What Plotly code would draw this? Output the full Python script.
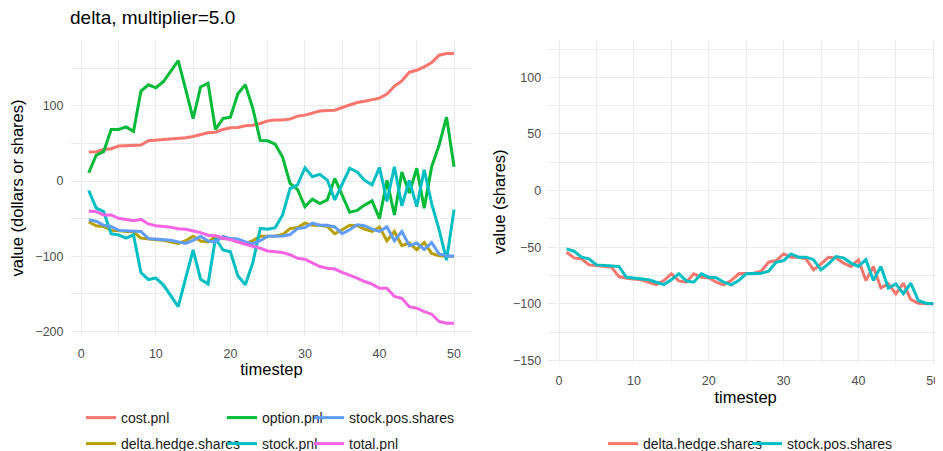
import plotly.graph_objects as go

timestep = list(range(1, 51))

cost_pnl = [38.5, 39, 42, 43, 46.5, 47, 47.3, 47.8, 53.5, 54.4,
            54.4, 55.3, 56.2, 57.5, 59.3, 62, 64.2, 65, 68.6, 70.8,
            71.2, 73.5, 74.3, 76.5, 80, 81, 81, 82.3, 86.3, 87.6,
            90.7, 93, 93.8, 94.2, 97.8, 101, 104.4, 106.2, 108.4, 110.2,
            115.5, 126, 133, 144.7, 147.3, 151.8, 157.5, 167.3, 169.5, 169.5]

option_pnl = [11, 34.5, 39, 68.6, 68.6, 72, 66, 119.5, 128, 124,
              132, 146, 160, 122, 83, 125, 130, 68.6, 83, 85,
              116, 128, 97, 54, 53.5, 49, 32, -3, -11, -34,
              -24, -30, -25, 3.5, -18.6, -41.6, -39, -32, -26.5, -50,
              1, -45, 12, -16, 17, -36, 19, 48, 85, 19]

stock_pnl = [-12.8, -36, -40.7, -70, -71.7, -76, -71.7, -121.7, -131, -129,
             -138, -152.6, -167, -129, -91.6, -130.5, -137, -76, -91.6, -94,
             -126, -138, -109, -63, -64, -62, -45, -10, -5, 17.7,
             5.7, 8.8, 1.3, -25, -5, 17, 12, 1, -5, 18,
             -27, 19, -33, 1, -34, 15, -30, -65, -105, -38]

total_pnl = [-39.8, -40.7, -45, -45, -49.6, -51, -52.7, -51, -57, -59.3,
             -60.2, -61.5, -63.3, -64, -66.4, -68.6, -72, -72.6, -76, -77.9,
             -81, -83.6, -85.8, -89.4, -93, -93.8, -95, -98, -102.7, -104,
             -108.4, -113.7, -116, -117, -121.3, -124.8, -129.2, -133.6, -137, -142.5,
             -142.5, -153.5, -155.8, -167, -169, -173.5, -177, -186.7, -189, -189]

delta_hedge_shares = [-54.4, -59.4, -60.3, -65.6, -66.2, -66.8, -67.6, -75.9, -77.4, -78,
                      -78.8, -80.9, -83, -79.4, -73.5, -79.7, -80.9, -73.5, -76.5, -77,
                      -80.9, -83.2, -79.4, -73.5, -73.5, -73, -71.2, -63.2, -61.8, -55.9,
                      -58.8, -58.8, -60.3, -70, -64.7, -58.8, -59.4, -64, -67, -61.2,
                      -79.4, -67, -85.9, -82.4, -91.2, -81.8, -96.2, -99.4, -100, -100]

stock_pos_shares = [-51.5, -53.5, -58.8, -60.3, -65.6, -66.2, -66.8, -67, -76.5, -77.4,
                    -78, -78.8, -80.9, -83, -78.8, -73.5, -79.7, -80.9, -73.5, -76.5,
                    -77, -80.9, -83.2, -79.4, -73.5, -73.5, -73, -71.2, -63.2, -61.8,
                    -55.9, -58.8, -58.8, -61, -70, -64.7, -58.2, -59.4, -64, -67,
                    -61, -79.4, -67, -86, -82.4, -91, -81.8, -97, -99.4, -100]

left_series = [
    ("cost.pnl", cost_pnl, "#F8766D", "legend"),
    ("delta.hedge.shares", delta_hedge_shares, "#B79F00", "legend4"),
    ("option.pnl", option_pnl, "#00BA38", "legend2"),
    ("stock.pnl", stock_pnl, "#00BFC4", "legend5"),
    ("stock.pos.shares", stock_pos_shares, "#619CFF", "legend3"),
    ("total.pnl", total_pnl, "#F564E3", "legend6"),
]
right_series = [
    ("delta.hedge.shares", delta_hedge_shares, "#F8766D", "legend7"),
    ("stock.pos.shares", stock_pos_shares, "#00BFC4", "legend8"),
]

# page is 943x451, but the page body has an 8px margin, so the figure is
# sized to fill the rest of the window exactly
PAGE_W, PAGE_H, OFF = 943, 451, 8
W, H = PAGE_W - OFF, PAGE_H - OFF
LW = 3

fig = go.Figure()
for name, vals, col, lg in left_series:
    fig.add_trace(go.Scatter(x=timestep, y=vals, mode="lines", name=name,
                             line=dict(color=col, width=LW), legend=lg,
                             showlegend=True, xaxis="x", yaxis="y"))
for name, vals, col, lg in right_series:
    fig.add_trace(go.Scatter(x=timestep, y=vals, mode="lines", name=name,
                             line=dict(color=col, width=LW), legend=lg,
                             showlegend=True, xaxis="x2", yaxis="y2"))

grid = "#ebebeb"
tickfont = dict(size=12.5, color="#4d4d4d")
titlefont = dict(size=16.5, color="#000000")


def xax(domain, rng, anchor):
    return dict(domain=domain, range=rng, anchor=anchor, tick0=0, dtick=10,
                showgrid=True, gridcolor=grid, gridwidth=1.1, zeroline=False,
                showline=False, ticks="", tickfont=tickfont, ticklabelstandoff=8,
                automargin=False, ticklabeloverflow="allow",
                minor=dict(dtick=5, showgrid=True, gridcolor=grid, gridwidth=0.55),
                title=dict(text="timestep", font=titlefont, standoff=2))


def yax(domain, rng, anchor, dt, title, standoff):
    return dict(domain=domain, range=rng, anchor=anchor, tick0=0, dtick=dt,
                showgrid=True, gridcolor=grid, gridwidth=1.1, zeroline=False,
                showline=False, ticks="", tickfont=tickfont, ticklabelstandoff=6,
                automargin=False, ticklabeloverflow="allow",
                minor=dict(dtick=dt / 2, showgrid=True, gridcolor=grid, gridwidth=0.55),
                title=dict(text=title, font=titlefont, standoff=standoff))


def px_x(p):
    return (p - OFF) / W


def px_y(p):
    return (PAGE_H - p) / H


legend_pos = {
    "legend": (121, 418), "legend2": (262, 418), "legend3": (349, 418),
    "legend4": (121, 444), "legend5": (262, 444), "legend6": (349, 444),
    "legend7": (643, 444), "legend8": (787, 444),
}
legends = {}
for key, (tx, ty) in legend_pos.items():
    legends[key] = dict(x=px_x(tx - 40), y=px_y(ty), xanchor="left", yanchor="middle",
                        orientation="h", bgcolor="rgba(0,0,0,0)", visible=True,
                        font=dict(size=14, color="#1a1a1a"))

fig.update_layout(
    width=W, height=H,
    margin=dict(l=0, r=0, t=0, b=0, autoexpand=False),
    showlegend=True,
    paper_bgcolor="white", plot_bgcolor="white",
    font=dict(family="Liberation Sans, Arial, sans-serif"),
    title=dict(text="delta, multiplier=5.0", x=px_x(70), xanchor="left",
               y=px_y(17), yanchor="middle", font=dict(size=19, color="#000000")),
    xaxis=xax([px_x(70.5), px_x(472.3)], [-1.45, 52.45], "y"),
    yaxis=yax([px_y(336), px_y(40)], [-206, 187.5], "x", 100,
              "value (dollars or shares)", 10),
    xaxis2=xax([px_x(548.2), 1.0], [-1.45, 51.3], "y2"),
    yaxis2=yax([px_y(363.3), px_y(40)], [-152.5, 133], "x2", 50, "value (shares)", 3),
    **legends,
)

fig.write_html("out.html")
